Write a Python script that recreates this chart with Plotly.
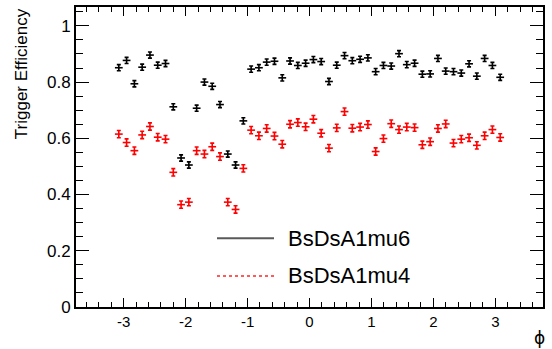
import numpy as np
import plotly.graph_objects as go

# 50 phi bins from -pi to pi
n_bins = 50
bin_width = 2 * np.pi / n_bins
phi_centers = [-np.pi + (i + 0.5) * bin_width for i in range(n_bins)]

eff_mu6 = [0.851, 0.877, 0.794, 0.853, 0.896, 0.860, 0.866, 0.712, 0.530, 0.505,
           0.707, 0.800, 0.785, 0.720, 0.544, 0.505, 0.662, 0.846, 0.851, 0.871,
           0.874, 0.815, 0.875, 0.859, 0.867, 0.880, 0.873, 0.802, 0.860, 0.894,
           0.876, 0.881, 0.886, 0.837, 0.859, 0.857, 0.901, 0.862, 0.867, 0.828,
           0.829, 0.884, 0.839, 0.837, 0.832, 0.865, 0.821, 0.884, 0.859, 0.817]

eff_mu4 = [0.615, 0.585, 0.556, 0.612, 0.642, 0.604, 0.597, 0.479, 0.364, 0.373,
           0.556, 0.544, 0.570, 0.535, 0.373, 0.347, 0.493, 0.629, 0.609, 0.635,
           0.608, 0.579, 0.650, 0.656, 0.641, 0.668, 0.618, 0.565, 0.637, 0.695,
           0.636, 0.640, 0.649, 0.553, 0.599, 0.652, 0.631, 0.640, 0.638, 0.577,
           0.588, 0.635, 0.651, 0.583, 0.597, 0.602, 0.575, 0.609, 0.631, 0.603]

err_mu6 = 0.011
err_mu4 = 0.013

x_tickvals = [-3, -2, -1, 0, 1, 2, 3]
x_ticktext = ["-3", "-2", "-1", "0", "1", "2", "3"]
y_tickvals = [0, 0.2, 0.4, 0.6, 0.8, 1.0]
y_ticktext = ["0", "0.2", "0.4", "0.6", "0.8", "1"]

series_names = ["BsDsA1mu6", "BsDsA1mu4"]

FONT = "Liberation Sans, Arial, Helvetica, sans-serif"

fig = go.Figure()

def add_series(y, err, color):
    fig.add_trace(go.Scatter(
        x=phi_centers, y=y, mode="markers",
        marker=dict(size=1, color=color),
        error_x=dict(type="constant", value=bin_width / 2, color=color, thickness=1.6, width=0),
        error_y=dict(type="constant", value=err, color=color, thickness=1.6, width=2),
        showlegend=False,
    ))

add_series(eff_mu4, err_mu4, "#ff0000")
add_series(eff_mu6, err_mu6, "#000000")

axis_common = dict(
    showline=True, linecolor="black", linewidth=2, mirror="ticks",
    ticks="inside", tickcolor="black", tickwidth=1,
    showgrid=False, zeroline=False,
)

fig.update_xaxes(
    range=[-1.2 * np.pi, 1.2 * np.pi],
    tickvals=x_tickvals, ticktext=x_ticktext, ticklen=9,
    tickfont=dict(family=FONT, size=15, color="black"),
    minor=dict(ticks="inside", ticklen=5, dtick=0.2, tick0=0, tickcolor="black", tickwidth=1),
    **axis_common,
)
fig.update_yaxes(
    range=[0, 1.067],
    tickvals=y_tickvals, ticktext=y_ticktext, ticklen=13,
    tickfont=dict(family=FONT, size=17, color="black"),
    minor=dict(ticks="inside", ticklen=7, dtick=0.05, tick0=0, tickcolor="black", tickwidth=1),
    **axis_common,
)

# Legend (ROOT-style, inside the frame)
fig.add_shape(type="line", xref="paper", yref="paper",
              x0=(217 - 76) / 467, x1=(274 - 76) / 467,
              y0=(307 - 237.7) / 302, y1=(307 - 237.7) / 302,
              line=dict(color="rgba(0,0,0,0.65)", width=2))
fig.add_shape(type="line", xref="paper", yref="paper",
              x0=(217 - 76) / 467, x1=(274 - 76) / 467,
              y0=(307 - 275.7) / 302, y1=(307 - 275.7) / 302,
              line=dict(color="rgba(255,0,0,0.65)", width=2, dash="dot"))
for name, ypix in zip(series_names, [237.7, 275.7]):
    fig.add_annotation(text=name, xref="paper", yref="paper",
                       x=(286 - 76) / 467, y=(307 - ypix) / 302,
                       xanchor="left", yanchor="middle", showarrow=False,
                       font=dict(family=FONT, size=22, color="black"))

# Axis titles (ROOT places them at the axis end)
fig.add_annotation(text="Trigger Efficiency", xref="paper", yref="paper",
                   x=-(76 - 21) / 467, y=1 - (5 - 5.3) / 302, textangle=-90,
                   xanchor="center", yanchor="top", showarrow=False,
                   font=dict(family=FONT, size=17, color="black"))
fig.add_annotation(text="ϕ", xref="paper", yref="paper",
                   x=1 - (543 - 539) / 467, y=-(338 - 307) / 302,
                   xanchor="center", yanchor="middle", showarrow=False,
                   font=dict(family="DejaVu Sans, " + FONT, size=17, color="black"))

fig.update_layout(
    width=552, height=349,
    margin=dict(l=76, r=9, t=5, b=42),
    paper_bgcolor="white", plot_bgcolor="white",
    showlegend=False,
)

fig.write_html("out.html")
